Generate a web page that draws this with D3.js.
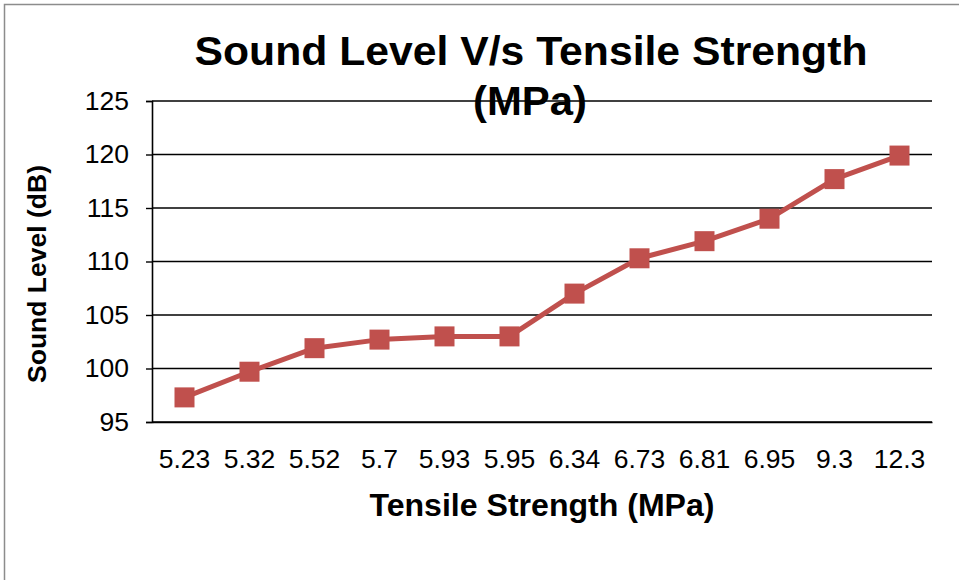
<!DOCTYPE html>
<html>
<head>
<meta charset="utf-8">
<script src="https://cdn.jsdelivr.net/npm/d3@7"></script>
<style>
  html, body { margin: 0; padding: 0; background: #fff; }
  svg { display: block; }
  text { font-family: "Liberation Sans", Arial, sans-serif; fill: #000; }
</style>
</head>
<body>
<svg id="chart" width="959" height="580"></svg>
<script>
const categories = ["5.23", "5.32", "5.52", "5.7", "5.93", "5.95", "6.34", "6.73", "6.81", "6.95", "9.3", "12.3"];
const soundLevel = [97.3, 99.7, 101.9, 102.7, 103.0, 103.0, 107.0, 110.3, 111.9, 114.0, 117.7, 119.9];
const yTicks = [95, 100, 105, 110, 115, 120, 125];
const titleLines = ["Sound Level V/s Tensile Strength", "(MPa)"];
const xTitle = "Tensile Strength (MPa)";
const yTitle = "Sound Level (dB)";

const W = 959, H = 580;
const plot = { left: 152, right: 932, top: 101, bottom: 422 };
const svg = d3.select("#chart");

// outer frame
svg.append("rect")
  .attr("x", 4.5).attr("y", 4.5)
  .attr("width", W + 10).attr("height", H + 10)
  .attr("fill", "#fff").attr("stroke", "#8c8c8c").attr("stroke-width", 1.5);

const x = d3.scaleBand().domain(categories).range([plot.left, plot.right]).padding(0);
const y = d3.scaleLinear().domain([95, 125]).range([plot.bottom, plot.top]);

// gridlines
svg.append("g")
  .selectAll("line")
  .data(yTicks)
  .join("line")
  .attr("x1", plot.left).attr("x2", plot.right)
  .attr("y1", d => y(d)).attr("y2", d => y(d))
  .attr("stroke", "#000").attr("stroke-width", 1.4);

// y axis
const yAxis = svg.append("g")
  .attr("transform", `translate(${plot.left},0)`)
  .call(d3.axisLeft(y).tickValues(yTicks).tickSize(6).tickPadding(17).tickFormat(d3.format("d")));
yAxis.select(".domain").attr("stroke", "#000").attr("stroke-width", 1.6);
yAxis.selectAll(".tick line").attr("stroke", "#000").attr("stroke-width", 1.4);
yAxis.selectAll(".tick text")
  .attr("font-size", 26.5).attr("font-family", "Liberation Sans, Arial, sans-serif").attr("fill", "#000");

// x axis (labels only)
const xAxis = svg.append("g")
  .attr("transform", `translate(0,${plot.bottom})`)
  .call(d3.axisBottom(x).tickSize(0).tickPadding(27));
xAxis.select(".domain").attr("stroke", "#000").attr("stroke-width", 1.6);
xAxis.selectAll(".tick text")
  .attr("font-size", 26.5).attr("font-family", "Liberation Sans, Arial, sans-serif").attr("fill", "#000");

// line
const cx = d => x(d) + x.bandwidth() / 2;
const line = d3.line().x((d, i) => cx(categories[i])).y(d => y(d));
svg.append("path")
  .datum(soundLevel)
  .attr("d", line)
  .attr("fill", "none").attr("stroke", "#C0504D").attr("stroke-width", 5)
  .attr("stroke-linejoin", "round");

// markers
const ms = 20;
svg.append("g")
  .selectAll("rect")
  .data(soundLevel)
  .join("rect")
  .attr("x", (d, i) => cx(categories[i]) - ms / 2)
  .attr("y", d => y(d) - ms / 2)
  .attr("width", ms).attr("height", ms)
  .attr("fill", "#C0504D");

// title
svg.append("text")
  .attr("x", 531).attr("y", 65)
  .attr("text-anchor", "middle").attr("font-weight", "bold").attr("font-size", 41)
  .attr("textLength", 673).attr("lengthAdjust", "spacingAndGlyphs")
  .text(titleLines[0]);
svg.append("text")
  .attr("x", 530).attr("y", 115)
  .attr("text-anchor", "middle").attr("font-weight", "bold").attr("font-size", 41)
  .attr("textLength", 114).attr("lengthAdjust", "spacingAndGlyphs")
  .text(titleLines[1]);

// axis titles
svg.append("text")
  .attr("x", 542).attr("y", 516)
  .attr("text-anchor", "middle").attr("font-weight", "bold").attr("font-size", 32)
  .attr("textLength", 345).attr("lengthAdjust", "spacingAndGlyphs")
  .text(xTitle);
svg.append("text")
  .attr("transform", "translate(46,274) rotate(-90)")
  .attr("text-anchor", "middle").attr("font-weight", "bold").attr("font-size", 26.5)
  .text(yTitle);
</script>
</body>
</html>
